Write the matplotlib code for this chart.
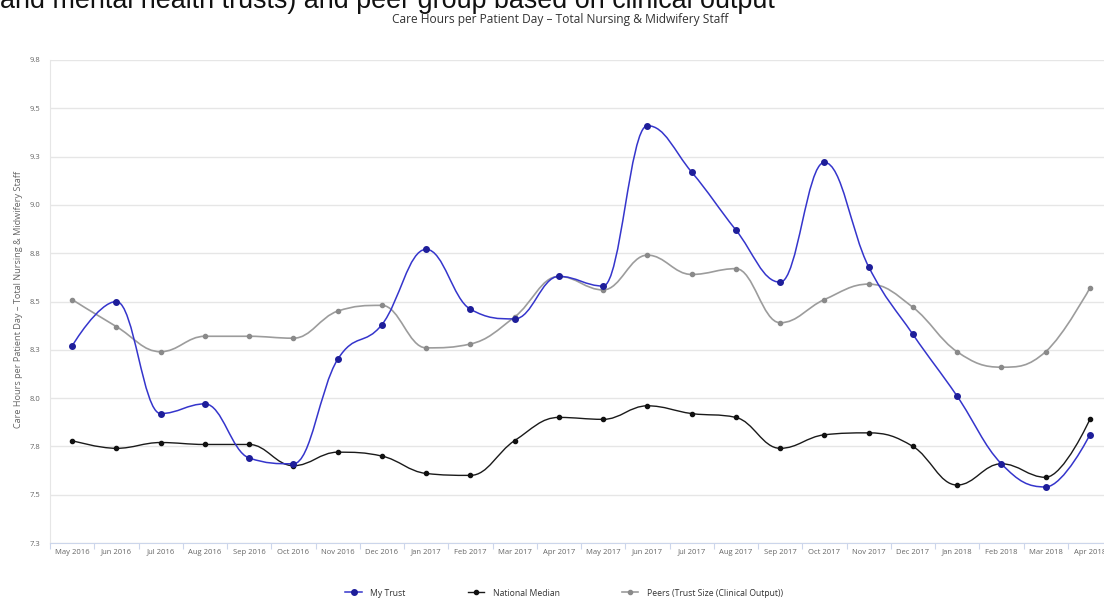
import matplotlib
matplotlib.use("Agg")
import matplotlib.pyplot as plt
from matplotlib.path import Path
from matplotlib.patches import PathPatch
from matplotlib.lines import Line2D
import numpy as np

months = ["May 2016", "Jun 2016", "Jul 2016", "Aug 2016", "Sep 2016", "Oct 2016",
          "Nov 2016", "Dec 2016", "Jan 2017", "Feb 2017", "Mar 2017", "Apr 2017",
          "May 2017", "Jun 2017", "Jul 2017", "Aug 2017", "Sep 2017", "Oct 2017",
          "Nov 2017", "Dec 2017", "Jan 2018", "Feb 2018", "Mar 2018", "Apr 2018"]

my_trust = [8.27, 8.50, 7.92, 7.97, 7.69, 7.66, 8.20, 8.38, 8.77, 8.46, 8.41, 8.63,
            8.58, 9.41, 9.17, 8.87, 8.60, 9.22, 8.68, 8.33, 8.01, 7.66, 7.54, 7.81]

national_median = [7.78, 7.74, 7.77, 7.76, 7.76, 7.65, 7.72, 7.70, 7.61, 7.60, 7.78, 7.90,
                   7.89, 7.96, 7.92, 7.90, 7.74, 7.81, 7.82, 7.75, 7.55, 7.66, 7.59, 7.89]

peers = [8.51, 8.37, 8.24, 8.32, 8.32, 8.31, 8.45, 8.48, 8.26, 8.28, 8.42, 8.63,
         8.56, 8.74, 8.64, 8.67, 8.39, 8.51, 8.59, 8.47, 8.24, 8.16, 8.24, 8.57]

y_ticks = [7.25, 7.5, 7.75, 8.0, 8.25, 8.5, 8.75, 9.0, 9.25, 9.5, 9.75]
y_tick_labels = ["7.3", "7.5", "7.8", "8.0", "8.3", "8.5", "8.8", "9.0", "9.3", "9.5", "9.8"]

series_names = ["My Trust", "National Median", "Peers (Trust Size (Clinical Output))"]

page_text = "and mental health trusts) and peer group based on clinical output"
chart_title = "Care Hours per Patient Day \u2013 Total Nursing & Midwifery Staff"
y_label = "Care Hours per Patient Day \u2013 Total Nursing & Midwifery Staff"

W, H = 1104, 599
fig = plt.figure(figsize=(W / 100, H / 100), dpi=100)
plt.rcParams['font.family'] = ['Open Sans', 'DejaVu Sans']
renderer = fig.canvas.get_renderer()


def fit_text(t, target_px):
    bb = t.get_window_extent(renderer=renderer)
    t.set_fontsize(t.get_fontsize() * target_px / bb.width)


# page text cut off at top
t0 = fig.text(0, 1 - 8 / H, page_text, fontsize=19,
              family=['Liberation Sans', 'DejaVu Sans'], color='#111111',
              ha='left', va='baseline')
fit_text(t0, 777)

t1 = fig.text(560 / W, 1 - 19 / H, chart_title, fontsize=7, color='#333333',
              ha='center', va='center', family=['Open Sans', 'DejaVu Sans'])
fit_text(t1, 340)

left, right, top, bottom = 50, 1112, 60, 543
ax = fig.add_axes([left / W, 1 - bottom / H, (right - left) / W, (bottom - top) / H])


def spline_path(xs, ys):
    n = len(xs)
    sm = 1.5
    den = sm + 1
    lc = [None] * n
    rc = [None] * n
    for i in range(n):
        x, y = xs[i], ys[i]
        if i == 0 or i == n - 1:
            lc[i] = (x, y)
            rc[i] = (x, y)
            continue
        lx, ly = xs[i - 1], ys[i - 1]
        nx, ny = xs[i + 1], ys[i + 1]
        lcx = (sm * x + lx) / den
        lcy = (sm * y + ly) / den
        rcx = (sm * x + nx) / den
        rcy = (sm * y + ny) / den
        corr = ((rcy - lcy) * (rcx - x)) / (rcx - lcx) + y - rcy
        lcy += corr
        rcy += corr
        if lcy > ly and lcy > y:
            lcy = max(ly, y)
            rcy = 2 * y - lcy
        elif lcy < ly and lcy < y:
            lcy = min(ly, y)
            rcy = 2 * y - lcy
        if rcy > ny and rcy > y:
            rcy = max(ny, y)
            lcy = 2 * y - rcy
        elif rcy < ny and rcy < y:
            rcy = min(ny, y)
            lcy = 2 * y - rcy
        lc[i] = (lcx, lcy)
        rc[i] = (rcx, rcy)
    verts = [(xs[0], ys[0])]
    codes = [Path.MOVETO]
    for i in range(1, n):
        verts += [rc[i - 1], lc[i], (xs[i], ys[i])]
        codes += [Path.CURVE4] * 3
    return Path(verts, codes)


x = np.arange(len(months))
styles = [
    (my_trust, '#3535cc', 1.1, '#1e1e9a', 4.0, 5),
    (national_median, '#1a1a1a', 1.0, '#111111', 3.0, 4),
    (peers, '#9c9c9c', 1.2, '#8a8a8a', 3.0, 3),
]
handles = []
for (vals, lc_, lw, mc, ms, z), name in zip(styles, series_names):
    p = spline_path(list(x.astype(float)), list(vals))
    ax.add_patch(PathPatch(p, facecolor='none', edgecolor=lc_, lw=lw, zorder=z))
    ax.plot(x, vals, linestyle='none', marker='o', ms=ms, color=mc, zorder=z + 0.5)
    handles.append(Line2D([0], [0], color=lc_, lw=lw, marker='o', ms=ms, markerfacecolor=mc,
                          markeredgecolor=mc))

ax.set_xlim(-0.5, len(months) - 0.5)
ax.set_ylim(7.25, 9.75)
ax.set_yticks(y_ticks)
ax.set_yticklabels(y_tick_labels)
ax.set_xticks(x)
ax.set_xticklabels(months)
ax.set_xticks(np.arange(-0.5, len(months), 1.0), minor=True)
ax.tick_params(axis='x', which='major', length=0, pad=4, labelsize=5.5, labelcolor='#666666')
ax.tick_params(axis='x', which='minor', length=4, color='#ccd6eb', width=0.8)
ax.tick_params(axis='y', length=0, pad=7, labelsize=5.5, labelcolor='#666666')
ax.grid(axis='y', color='#e6e6e6', lw=1)
ax.set_axisbelow(True)
for s in ['top', 'right']:
    ax.spines[s].set_visible(False)
ax.spines['left'].set_color('#e6e6e6')
ax.spines['bottom'].set_color('#ccd6eb')

fig.text(19 / W, 1 - 300 / H, y_label,
         rotation=90, fontsize=6.6, color='#666666', ha='center', va='center')

fig.legend(handles, series_names, loc='center', bbox_to_anchor=(564 / W, 1 - 593 / H),
           ncol=3, frameon=False, fontsize=6.2, handlelength=1.9, columnspacing=7.2,
           handletextpad=1.0, labelcolor='#333333')

fig.savefig("out.png", dpi=100)
